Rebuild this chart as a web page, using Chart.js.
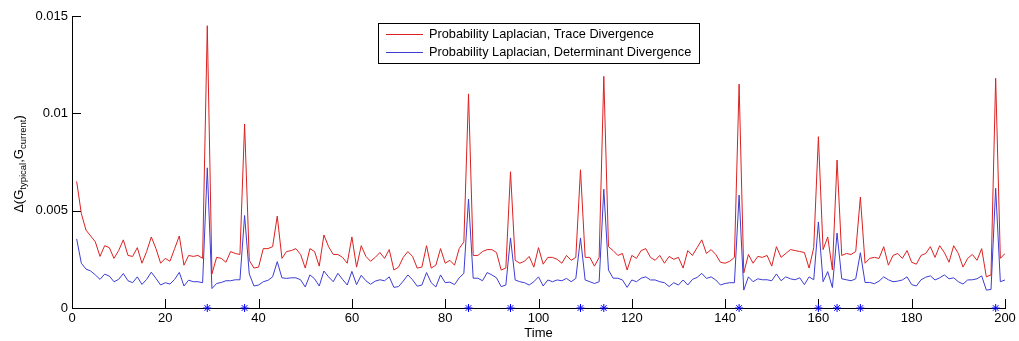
<!DOCTYPE html>
<html>
<head>
<meta charset="utf-8">
<script src="https://cdn.jsdelivr.net/npm/chart.js@4.4.1/dist/chart.umd.min.js"></script>
<style>
  body { margin: 0; background: #fff; }
  #wrap { width: 1019px; height: 341px; }
</style>
</head>
<body>
<div id="wrap"><canvas id="container" width="1019" height="341"></canvas></div>
<script>
let ctx = document.getElementById('container').getContext('2d');

let time = Array.from({ length: 200 }, (_, i) => i + 1);

let traceDiv = [
  0.0065, 0.00485, 0.0040, 0.0037, 0.0034, 0.00265, 0.0032, 0.0031, 0.00255, 0.00295,
  0.0035, 0.0027, 0.00265, 0.0031, 0.0023, 0.0029, 0.00365, 0.00305, 0.0023, 0.00255,
  0.0024, 0.00305, 0.0037, 0.0022, 0.0027, 0.00265, 0.0027, 0.00255, 0.0145, 0.00175,
  0.0026, 0.00255, 0.00235, 0.0029, 0.0028, 0.00275, 0.00945, 0.00245, 0.00205, 0.0021,
  0.00305, 0.00305, 0.00315, 0.00472, 0.00255, 0.0029, 0.00295, 0.00305, 0.00275, 0.00205,
  0.00305, 0.0029, 0.00215, 0.00375, 0.00315, 0.00275, 0.00275, 0.0026, 0.0023, 0.00365,
  0.0021, 0.0032, 0.00265, 0.0024, 0.0026, 0.00285, 0.00255, 0.0030, 0.00195, 0.0021,
  0.0026, 0.0029, 0.00265, 0.00205, 0.0021, 0.0032, 0.00205, 0.0022, 0.00305, 0.0023,
  0.00245, 0.0022, 0.00305, 0.0034, 0.0110, 0.0027, 0.0027, 0.0029, 0.0030, 0.0030,
  0.00285, 0.00195, 0.00205, 0.0070, 0.00245, 0.0023, 0.0024, 0.00265, 0.0021, 0.0031,
  0.00225, 0.0026, 0.0026, 0.0025, 0.0023, 0.0027, 0.00245, 0.0026, 0.0071, 0.0026,
  0.0026, 0.00215, 0.0026, 0.0119, 0.00315, 0.00295, 0.0027, 0.0028, 0.00195, 0.0027,
  0.00255, 0.00295, 0.00305, 0.0026, 0.00245, 0.0027, 0.0023, 0.00265, 0.0025, 0.0026,
  0.00205, 0.00295, 0.0027, 0.0031, 0.0035, 0.0028, 0.0030, 0.00275, 0.00235, 0.0023,
  0.0024, 0.0026, 0.0115, 0.0018, 0.00275, 0.0023, 0.00265, 0.0026, 0.0027, 0.00215,
  0.00315, 0.0026, 0.0028, 0.0030, 0.00295, 0.0029, 0.00285, 0.00205, 0.0031, 0.0088,
  0.0030, 0.00365, 0.00195, 0.0076, 0.0027, 0.0028, 0.00275, 0.0029, 0.0057, 0.0023,
  0.00255, 0.0026, 0.00255, 0.00315, 0.0022, 0.0027, 0.0028, 0.00255, 0.00295, 0.00235,
  0.00225, 0.0027, 0.0028, 0.00315, 0.0026, 0.0032, 0.00285, 0.00235, 0.0032, 0.0028,
  0.0021, 0.00255, 0.00275, 0.00245, 0.00305, 0.0016, 0.0017, 0.0118, 0.00255, 0.0028
];

let detDiv = [
  0.00355, 0.0023, 0.0020, 0.0019, 0.0017, 0.00147, 0.00174, 0.00164, 0.00135, 0.00147,
  0.00177, 0.0014, 0.0013, 0.0016, 0.00121, 0.00147, 0.00184, 0.00152, 0.00118, 0.0013,
  0.00123, 0.00147, 0.00183, 0.00113, 0.00143, 0.00135, 0.00135, 0.0013, 0.0072, 0.0010,
  0.00126, 0.00131, 0.0014, 0.0014, 0.00145, 0.00145, 0.00475, 0.00175, 0.00113, 0.00118,
  0.00135, 0.00142, 0.0016, 0.00238, 0.00155, 0.00152, 0.00155, 0.00155, 0.00145, 0.00108,
  0.0017, 0.0015, 0.00113, 0.0019, 0.0016, 0.00135, 0.00178, 0.00147, 0.00118, 0.00188,
  0.0012, 0.00168, 0.0014, 0.00122, 0.00138, 0.00145, 0.0014, 0.0016, 0.00106, 0.0011,
  0.00138, 0.0017, 0.00145, 0.00112, 0.00118, 0.00182, 0.0013, 0.00108, 0.0017, 0.0013,
  0.00133, 0.0012, 0.00155, 0.00178, 0.0056, 0.00153, 0.00153, 0.0014, 0.00182, 0.0017,
  0.00155, 0.0011, 0.00118, 0.0036, 0.00144, 0.00135, 0.0013, 0.00118, 0.00135, 0.0016,
  0.00113, 0.00144, 0.00135, 0.00144, 0.0014, 0.00152, 0.00135, 0.00152, 0.0036, 0.00144,
  0.00135, 0.00126, 0.00135, 0.0061, 0.00195, 0.00153, 0.00153, 0.00144, 0.00106, 0.00144,
  0.00135, 0.00153, 0.0016, 0.00144, 0.00144, 0.00135, 0.0013, 0.0011, 0.0013, 0.00118,
  0.00144, 0.00118, 0.00147, 0.00157, 0.00178, 0.00152, 0.0016, 0.00144, 0.00118, 0.00126,
  0.0013, 0.0013, 0.0058, 0.00092, 0.0016, 0.00135, 0.0015, 0.00145, 0.00145, 0.0014,
  0.00175, 0.0014, 0.0016, 0.0015, 0.00145, 0.00155, 0.0012, 0.0016, 0.00145, 0.00442,
  0.00135, 0.00187, 0.00105, 0.00385, 0.0015, 0.00145, 0.0014, 0.0015, 0.00284, 0.00131,
  0.00131, 0.00125, 0.00138, 0.0016, 0.00145, 0.00135, 0.00138, 0.00144, 0.0016, 0.0012,
  0.00113, 0.00145, 0.00158, 0.00165, 0.00144, 0.00155, 0.0017, 0.0015, 0.00155, 0.00135,
  0.00123, 0.00144, 0.00145, 0.0015, 0.00165, 0.00092, 0.00095, 0.00615, 0.00135, 0.00144
];

// change points marked along the time axis
let events = [29, 37, 85, 94, 109, 114, 143, 160, 164, 169, 198];

let labels = ['Probability Laplacian, Trace Divergence', 'Probability Laplacian, Determinant Divergence'];
let colorHex = ['#dc2020', '#3c3cd4'];
let fontFam = '"Liberation Sans", Arial, sans-serif';

// matlab style: ticks inside the axes, no box
let innerTicks = {
  id: 'innerTicks',
  beforeDatasetsDraw(chart) {
    let c = chart.ctx, a = chart.chartArea;
    let sx = chart.scales.x, sy = chart.scales.y;
    c.save();
    c.strokeStyle = '#000';
    c.lineWidth = 1;
    c.beginPath();
    sx.ticks.forEach(t => {
      let px = Math.round(sx.getPixelForValue(t.value)) + 0.5;
      c.moveTo(px, a.bottom);
      c.lineTo(px, a.bottom - 9);
    });
    sy.ticks.forEach(t => {
      let py = Math.round(sy.getPixelForValue(t.value)) + 0.5;
      c.moveTo(a.left, py);
      c.lineTo(a.left + 9, py);
    });
    c.stroke();
    c.restore();
  },
  afterDraw(chart) {
    let c = chart.ctx;
    // y axis label with subscripts
    c.save();
    c.fillStyle = '#000';
    c.textBaseline = 'alphabetic';
    let parts = [['\u0394(G', 13, 0], ['typical', 9.5, 3], [',G', 13, 0], ['current', 9.5, 3], [')', 13, 0]];
    let total = 0;
    parts.forEach(p => { c.font = p[1] + 'px ' + fontFam; total += c.measureText(p[0]).width; });
    c.translate(23, 164);
    c.rotate(-Math.PI / 2);
    let x0 = -total / 2;
    parts.forEach(p => {
      c.font = p[1] + 'px ' + fontFam;
      c.fillText(p[0], x0, p[2]);
      x0 += c.measureText(p[0]).width;
    });
    c.restore();

    // legend box inside the axes
    c.save();
    let bx = 378.5, by = 23.5, bw = 321, bh = 40;
    c.fillStyle = '#fff';
    c.fillRect(bx, by, bw, bh);
    c.strokeStyle = '#000';
    c.lineWidth = 1;
    c.strokeRect(bx, by, bw, bh);
    c.font = '12.75px ' + fontFam;
    c.textBaseline = 'middle';
    chart.data.datasets.slice(0, 2).forEach((ds, i) => {
      let ry = 34.5 + i * 18;
      c.strokeStyle = ds.borderColor;
      c.beginPath();
      c.moveTo(386, ry);
      c.lineTo(423, ry);
      c.stroke();
      c.fillStyle = '#000';
      c.fillText(ds.label, 429, ry);
    });
    c.restore();
  }
};

let myChart = new Chart(ctx, {
  type: 'line',
  data: {
    datasets: [
      {
        label: labels[0],
        data: time.map((t, i) => ({ x: t, y: traceDiv[i] })),
        borderColor: colorHex[0],
        borderWidth: 1,
        pointRadius: 0,
        order: 3
      },
      {
        label: labels[1],
        data: time.map((t, i) => ({ x: t, y: detDiv[i] })),
        borderColor: colorHex[1],
        borderWidth: 1,
        pointRadius: 0,
        order: 2
      },
      {
        label: 'events',
        data: events.map(t => ({ x: t, y: 0 })),
        showLine: false,
        pointStyle: 'star',
        pointRadius: 4,
        borderColor: '#0000ff',
        pointBorderWidth: 1,
        clip: false,
        order: 1
      }
    ]
  },
  options: {
    responsive: false,
    animation: false,
    layout: { padding: { top: 16, right: 14, left: 0, bottom: 0 } },
    plugins: {
      legend: { display: false },
      tooltip: { enabled: false }
    },
    scales: {
      x: {
        type: 'linear',
        min: 0,
        max: 200,
        ticks: { stepSize: 20, color: '#000', padding: 3, font: { family: fontFam, size: 13 }, maxRotation: 0 },
        grid: { drawOnChartArea: false, drawTicks: false },
        border: { color: '#000', width: 1 },
        title: { display: true, text: 'Time', color: '#000', font: { family: fontFam, size: 13 }, padding: 0 },
        afterFit: s => { s.height = 33; }
      },
      y: {
        min: 0,
        max: 0.015,
        ticks: {
          stepSize: 0.005,
          color: '#000',
          padding: 4,
          font: { family: fontFam, size: 13 },
          callback: v => String(+v.toFixed(3))
        },
        grid: { drawOnChartArea: false, drawTicks: false },
        border: { color: '#000', width: 1 },
        afterFit: s => { s.width = 72; }
      }
    }
  },
  plugins: [innerTicks]
});
</script>
</body>
</html>
